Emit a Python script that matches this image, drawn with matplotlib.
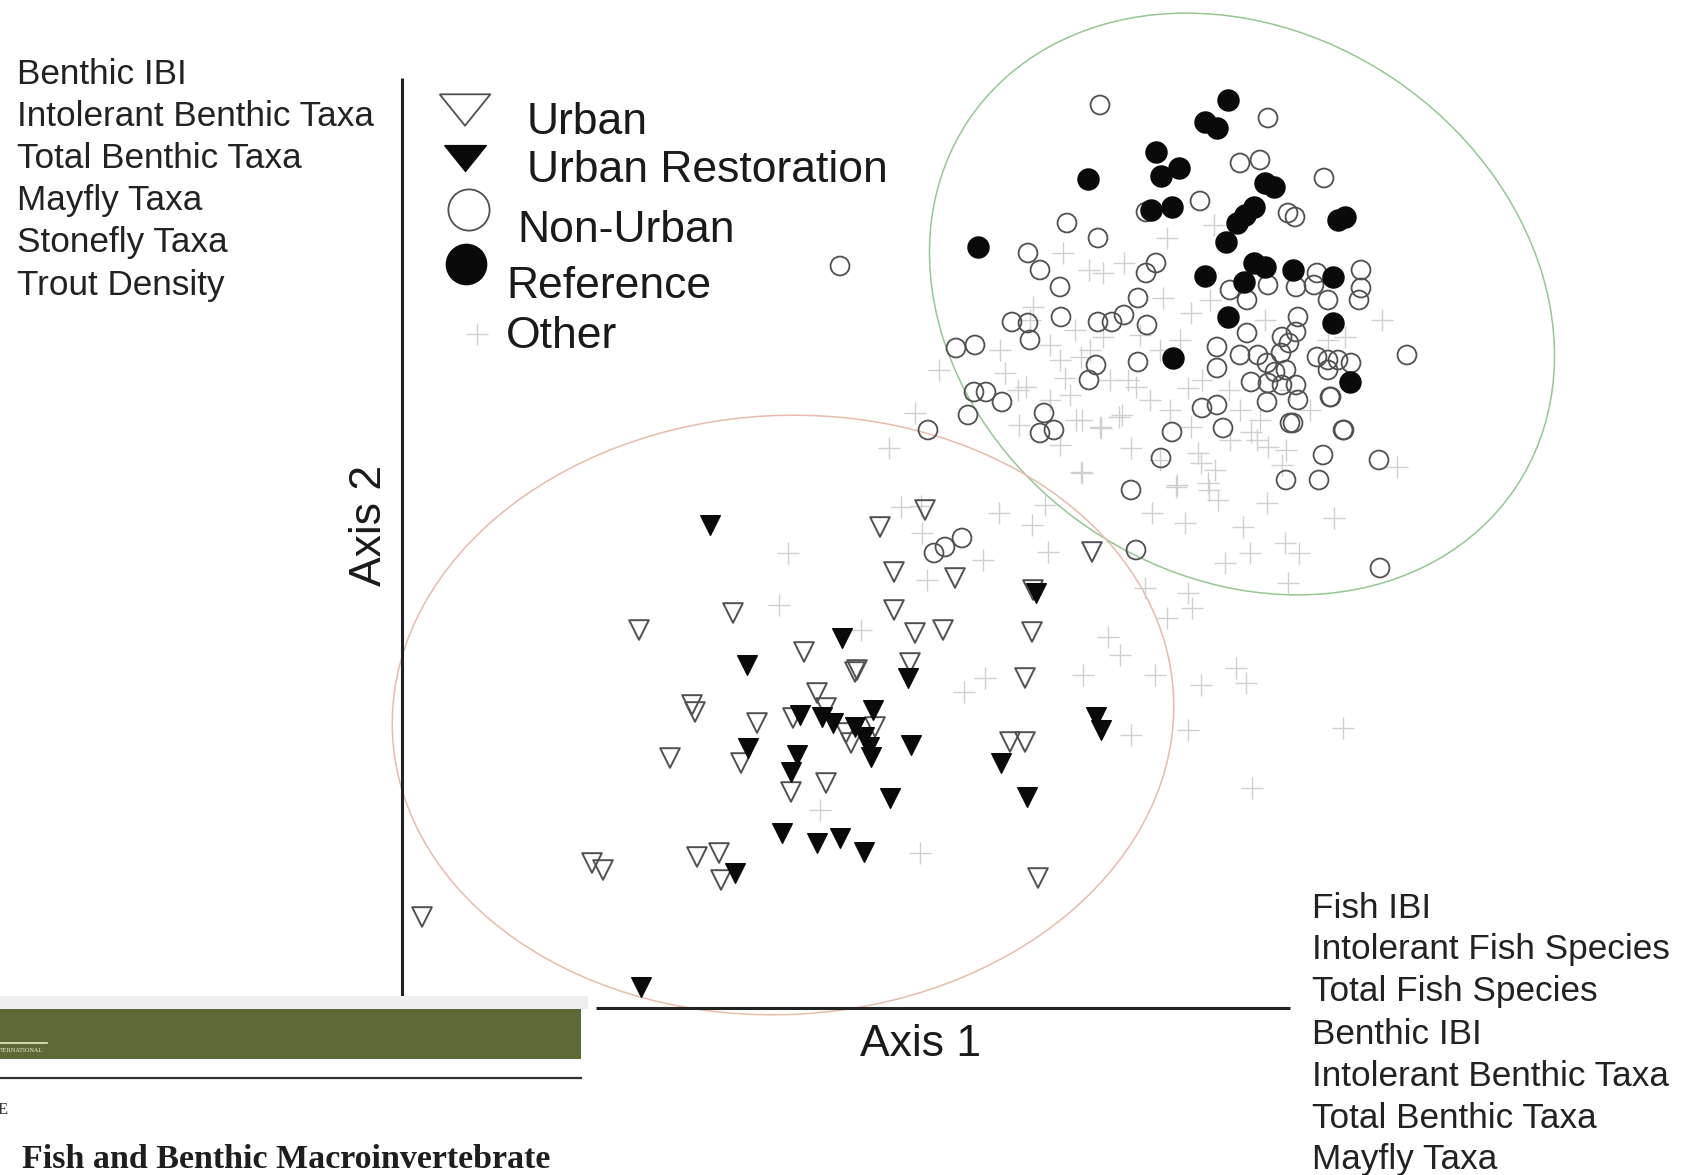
import matplotlib
matplotlib.use("Agg")
import matplotlib.pyplot as plt
from matplotlib.patches import Ellipse, Rectangle

# ---- data (ordination scores; Axis 1 -> x, Axis 2 -> y (down)) ----
urban_x = [925, 880, 894, 955, 1092, 894, 915, 943, 1032, 910, 857, 1025, 1010, 1025, 733, 639, 804, 855,
           817, 692, 695, 757, 793, 826, 846, 875, 851, 670, 741, 826, 791, 1038, 592, 603, 697, 719, 721,
           422, 1033]
urban_y = [510, 527, 572, 578, 552, 610, 633, 630, 632, 663, 670, 678, 742, 742, 613, 630, 652, 672,
           693, 705, 712, 723, 718, 708, 733, 727, 743, 758, 763, 783, 792, 878, 863, 870, 857, 853, 880,
           917, 590]

restor_x = [1036, 908, 873, 1096, 1101, 911, 1001, 890, 1027, 710, 842, 747, 800, 822, 833, 855, 864, 869,
            871, 748, 797, 791, 782, 817, 840, 864, 735, 641]
restor_y = [593, 678, 710, 717, 730, 745, 763, 798, 797, 525, 638, 665, 715, 717, 723, 727, 737, 747,
            757, 748, 755, 772, 833, 843, 838, 852, 873, 987]

nonurb_x = [1100, 1268, 1240, 1260, 1324, 1200, 1146, 1288, 1295, 1067, 1098, 1028, 1040, 1060, 1156, 1146,
            1138, 1012, 1028, 1030, 1061, 1098, 1112, 1124, 1147, 956, 975, 974, 986, 1002, 968, 928, 1044,
            1040, 1054, 1096, 1089, 1138, 1217, 1217, 1202, 1217, 1223, 1172, 1161, 1131, 1230, 1247, 1247,
            1268, 1296, 1314, 1317, 1328, 1361, 1361, 1359, 1298, 1296, 1282, 1289, 1281, 1240, 1258, 1267,
            1275, 1286, 1251, 1268, 1282, 1296, 1298, 1267, 1317, 1328, 1338, 1351, 1328, 1331, 1293, 1344,
            1323, 1319, 1286, 1379, 1407, 1380, 1136, 934, 945, 962, 840, 1290, 1330, 1343]
nonurb_y = [105, 118, 163, 160, 178, 201, 212, 213, 217, 223, 238, 253, 270, 287, 263, 273,
            298, 322, 323, 340, 317, 322, 322, 315, 325, 348, 345, 392, 392, 402, 415, 430, 413,
            433, 430, 365, 380, 362, 347, 368, 408, 405, 428, 432, 458, 490, 290, 300, 333,
            285, 287, 285, 273, 300, 270, 288, 300, 317, 332, 337, 343, 353, 355, 355, 363,
            372, 370, 382, 383, 385, 385, 400, 402, 357, 360, 360, 363, 370, 397, 423, 430,
            455, 480, 480, 460, 355, 568, 550, 553, 547, 538, 266, 423, 397, 430]

ref_x = [1228, 1205, 1217, 1156, 1179, 1161, 1151, 1172, 1088, 978, 1265, 1274, 1254, 1245, 1237, 1338,
         1345, 1226, 1254, 1265, 1205, 1293, 1333, 1244, 1228, 1333, 1173, 1350]
ref_y = [100, 122, 128, 152, 168, 176, 210, 207, 179, 247, 183, 187, 207, 215, 223, 220,
         217, 242, 263, 267, 276, 270, 277, 282, 317, 323, 358, 382]

other_x = [915, 889, 901, 922, 927, 983, 1032, 1048, 999, 861, 985, 964, 1083, 1108, 1120, 1155, 1131, 1188,
           1201, 1236, 1246, 1343, 1252, 1145, 1167, 1188, 1192, 1081, 1131, 1152, 1185, 1225, 1250, 1243,
           1285, 1299, 1288, 1334, 1201, 1218, 1267, 1257, 1208, 1176, 1101, 1076, 1122, 1060, 1136, 1018,
           1397, 1188, 1229, 1214, 1167, 1063, 1089, 1103, 1124, 1163, 1033, 1103, 1081, 1065, 1110, 1128,
           1026, 1019, 1082, 1100, 1119, 1082, 1191, 1198, 1209, 1177, 1251, 1268, 1286, 1282, 1382, 1328,
           1345, 1191, 1202, 1265, 939, 1005, 788, 779, 820, 920, 921, 1050, 1075, 1070, 1140, 1160, 1240,
           1260, 1310, 1230, 1215, 1050, 1000, 1150, 1170, 1290, 1060, 1090, 1030, 1180, 1210, 1160, 1045]
other_y = [413, 448, 507, 533, 580, 560, 525, 552, 513, 630, 678, 692, 675, 637, 655, 675, 735, 730,
           685, 668, 683, 728, 788, 588, 618, 593, 608, 472, 448, 513, 523, 563, 553, 527,
           543, 553, 583, 518, 463, 500, 503, 440, 483, 487, 428, 420, 415, 445, 387, 390,
           467, 388, 390, 225, 238, 253, 270, 273, 263, 298, 307, 337, 357, 378, 380, 380,
           387, 425, 420, 427, 417, 473, 427, 453, 490, 485, 432, 447, 450, 465, 320, 340,
           337, 313, 380, 320, 370, 373, 553, 605, 810, 853, 506, 345, 330, 395, 335, 350, 410,
           420, 410, 440, 470, 400, 350, 400, 410, 390, 360, 350, 320, 340, 300, 460, 505]

top_left_labels = ["Benthic IBI", "Intolerant Benthic Taxa", "Total Benthic Taxa",
                   "Mayfly Taxa", "Stonefly Taxa", "Trout Density"]
bottom_right_labels = ["Fish IBI", "Intolerant Fish Species", "Total Fish Species", "Benthic IBI",
                       "Intolerant Benthic Taxa", "Total Benthic Taxa", "Mayfly Taxa"]
legend_labels = ["Urban", "Urban Restoration", "Non-Urban", "Reference", "Other"]

# ---- figure ----
W, H = 1689, 1175
fig = plt.figure(figsize=(W / 100, H / 100), dpi=100)
ax = fig.add_axes([0, 0, 1, 1])
ax.set_xlim(0, W)
ax.set_ylim(H, 0)
ax.axis("off")

SANS = ["Liberation Sans", "DejaVu Sans"]
SERIF = ["Liberation Serif", "DejaVu Serif"]

# flattened downward triangle used for the legend keys
flat_tri = [(-1.0, 0.62), (1.0, 0.62), (0.0, -0.62), (-1.0, 0.62)]

# ellipses
ax.add_patch(Ellipse((1242, 304), 659, 543, angle=34, fill=False, ec="#94c794", lw=1.1, zorder=2))
ax.add_patch(Ellipse((783, 715), 782, 599, angle=-3, fill=False, ec="#e6bcad", lw=1.1, zorder=2))

# points
ax.scatter(other_x, other_y, marker="+", s=260, c="#cfcfcf", linewidths=1.0, zorder=3)
ax.scatter(nonurb_x, nonurb_y, marker="o", s=185, facecolors="none", edgecolors="#505050",
           linewidths=1.3, zorder=4)
ax.scatter(ref_x, ref_y, marker="o", s=230, c="#0a0a0a", edgecolors="#0a0a0a", zorder=5)
ax.scatter(urban_x, urban_y, marker="v", s=200, facecolors="none", edgecolors="#505050",
           linewidths=1.4, zorder=4)
ax.scatter(restor_x, restor_y, marker="v", s=200, c="#0a0a0a", edgecolors="#0a0a0a", zorder=5)

# axis lines
ax.plot([402, 402], [78, 996], color="#222222", lw=2.2, zorder=6, solid_capstyle="butt")
ax.plot([596, 1290], [1008, 1008], color="#222222", lw=2.2, zorder=6, solid_capstyle="butt")
ax.text(370, 525, "Axis 2", rotation=90, ha="center", va="center", fontsize=32,
        family=SANS, color="#1a1a1a", zorder=7)
ax.text(921, 1044, "Axis 1", ha="center", va="center", fontsize=32,
        family=SANS, color="#1a1a1a", zorder=7)

# side labels
for i, t in enumerate(top_left_labels):
    ax.text(17, 74 + 42.2 * i, t, ha="left", va="center", fontsize=25.3, family=SANS,
            color="#222222", zorder=7)
for i, t in enumerate(bottom_right_labels):
    ax.text(1312, 908 + 42.0 * i, t, ha="left", va="center", fontsize=25.3, family=SANS,
            color="#222222", zorder=7)

# legend
leg_mk = [dict(marker=flat_tri, s=1330, facecolors="none", edgecolors="#505050", linewidths=1.3),
          dict(marker=flat_tri, s=900, c="#0a0a0a"),
          dict(marker="o", s=880, facecolors="none", edgecolors="#505050", linewidths=1.3),
          dict(marker="o", s=840, c="#0a0a0a"),
          dict(marker="+", s=260, c="#cfcfcf", linewidths=1.0)]
leg_mxy = [(465, 110), (465, 158), (469, 210), (466, 264), (477, 334)]
leg_txy = [(527, 122), (527, 171), (517, 230), (506, 287), (506, 337)]
for kw, (mx, my), (tx, ty), lab in zip(leg_mk, leg_mxy, leg_txy, legend_labels):
    ax.scatter([mx], [my], zorder=6, **kw)
    ax.text(tx, ty, lab, ha="left", va="center", fontsize=32, family=SANS,
            color="#1a1a1a", zorder=7)

# journal banner overlay (bottom-left)
ax.add_patch(Rectangle((0, 996), 588, 13, fc="#eeeeee", ec="none", zorder=8))
ax.add_patch(Rectangle((0, 1009), 581, 50, fc="#5c6b36", ec="none", zorder=9))
ax.plot([0, 47], [1043, 1043], color="#e8ecc0", lw=1.2, zorder=10)
ax.text(0, 1050, "TERNATIONAL", ha="left", va="center", fontsize=4.5, family=SERIF,
        color="#f0f0d0", zorder=10)
ax.plot([0, 581], [1078, 1078], color="#333333", lw=1.6, zorder=9)
ax.text(-2, 1110, "E", ha="left", va="center", fontsize=12, family=SERIF, color="#333333", zorder=9)
ax.text(22, 1159, "Fish and Benthic Macroinvertebrate", ha="left", va="center", fontsize=24.5,
        family=SERIF, fontweight="bold", color="#1e1e1e", zorder=9)

fig.savefig("out.png", dpi=100)
